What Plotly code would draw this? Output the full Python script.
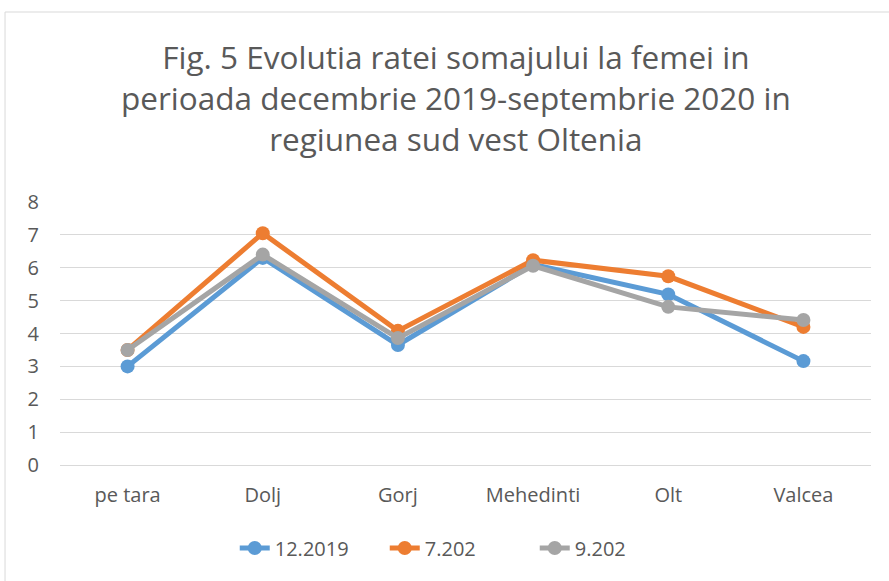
import plotly.graph_objects as go

categories = ["pe tara", "Dolj", "Gorj", "Mehedinti", "Olt", "Valcea"]
s_dec2019 = [3.0, 6.3, 3.65, 6.1, 5.19, 3.16]
s_jul2020 = [3.5, 7.05, 4.08, 6.23, 5.74, 4.2]
s_sep2020 = [3.5, 6.4, 3.86, 6.06, 4.81, 4.41]
series_names = ["12.2019", "7.202", "9.202"]
colors = ["#5B9BD5", "#ED7D31", "#A5A5A5"]
title_text = "Fig. 5 Evolutia ratei somajului la femei in<br>perioada decembrie 2019-septembrie 2020 in<br>regiunea sud vest Oltenia"

W, H = 889, 581
L, R, T, B = 60, 17.5, 202, 116
FONT = "Open Sans, Noto Sans, sans-serif"

fig = go.Figure()
for name, vals, c in zip(series_names, [s_dec2019, s_jul2020, s_sep2020], colors):
    fig.add_trace(go.Scatter(
        x=categories, y=vals, name=name, mode="lines+markers",
        line=dict(color=c, width=5),
        marker=dict(color=c, size=14),
    ))

pw = W - L - R
ph = H - T - B
def px_x(x):
    return (x - L) / pw
def px_y(y):
    return (H - B - y) / ph

fig.add_shape(type="rect", xref="paper", yref="paper",
              x0=px_x(5), x1=px_x(900), y0=px_y(600), y1=px_y(12),
              line=dict(color="#D9D9D9", width=1), fillcolor="rgba(0,0,0,0)", layer="below")

fig.add_annotation(text=title_text, xref="paper", yref="paper",
                   x=px_x(456), y=px_y(97), xanchor="center", yanchor="middle",
                   showarrow=False, align="center",
                   font=dict(family=FONT, size=31.5, color="#595959"))

fig.update_layout(
    width=W, height=H,
    margin=dict(l=L, r=R, t=T, b=B),
    paper_bgcolor="white", plot_bgcolor="white",
    font=dict(family=FONT, color="#595959", size=20),
    showlegend=True,
    legend=dict(orientation="h", x=px_x(460), xanchor="center", y=px_y(548), yanchor="middle",
                font=dict(size=20, color="#595959"), traceorder="normal",
                entrywidth=105, entrywidthmode="pixels"),
    xaxis=dict(range=[-0.5, 5.5], showgrid=False, showline=True, linecolor="#D9D9D9", linewidth=1,
               ticks="", ticklabelstandoff=12, tickfont=dict(size=20, color="#595959"), zeroline=False),
    yaxis=dict(range=[0, 8], dtick=1, showgrid=True, gridcolor="#D9D9D9", gridwidth=1,
               zeroline=False, showline=False, ticks="", ticklabelstandoff=20,
               tickfont=dict(size=20, color="#595959")),
)

fig.write_html("out.html", config={"displayModeBar": False},
               post_script="document.body.style.margin='0';")
